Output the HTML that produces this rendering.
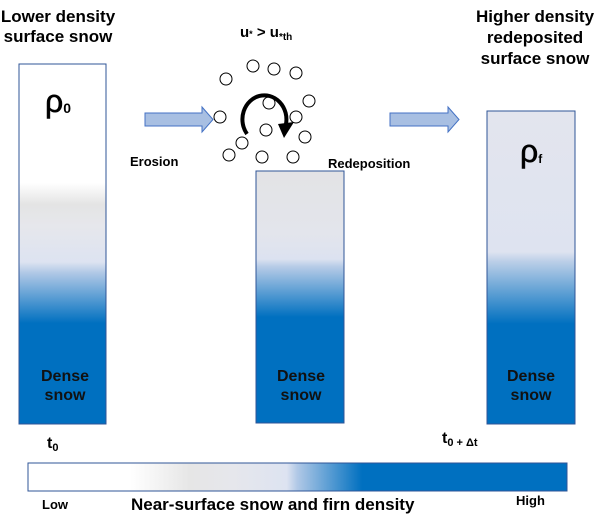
<!DOCTYPE html>
<html><head><style>
body{margin:0;width:600px;height:521px;background:#fff;overflow:hidden;font-family:"Liberation Sans",Arial,sans-serif;}
</style></head><body>
<svg width="600" height="521" viewBox="0 0 600 521" xmlns="http://www.w3.org/2000/svg" font-family="Liberation Sans, Arial, sans-serif" font-weight="bold">
<defs>
<linearGradient id="g1" x1="0" y1="0" x2="0" y2="1">
<stop offset="0" stop-color="#fff"/><stop offset="0.33" stop-color="#fff"/><stop offset="0.39" stop-color="#e4e4e4"/><stop offset="0.45" stop-color="#e6e7ec"/><stop offset="0.55" stop-color="#dde3f1"/><stop offset="0.58" stop-color="#b0c8e6"/><stop offset="0.72" stop-color="#0070c0"/><stop offset="1" stop-color="#0070c0"/>
</linearGradient>
<linearGradient id="g2" x1="0" y1="0" x2="0" y2="1">
<stop offset="0" stop-color="#e3e3e5"/><stop offset="0.25" stop-color="#e3e5ec"/><stop offset="0.35" stop-color="#dce2f0"/><stop offset="0.38" stop-color="#b6cbe7"/><stop offset="0.58" stop-color="#0070c0"/><stop offset="1" stop-color="#0070c0"/>
</linearGradient>
<linearGradient id="g3" x1="0" y1="0" x2="0" y2="1">
<stop offset="0" stop-color="#e3e5ee"/><stop offset="0.45" stop-color="#dee3f0"/><stop offset="0.48" stop-color="#bccfe8"/><stop offset="0.68" stop-color="#0070c0"/><stop offset="1" stop-color="#0070c0"/>
</linearGradient>
<linearGradient id="gb" x1="0" y1="0" x2="1" y2="0">
<stop offset="0" stop-color="#fff"/><stop offset="0.19" stop-color="#fff"/><stop offset="0.3" stop-color="#e6e6e6"/><stop offset="0.38" stop-color="#e6e7ec"/><stop offset="0.48" stop-color="#dde3f1"/><stop offset="0.5" stop-color="#b0c8e6"/><stop offset="0.62" stop-color="#0070c0"/><stop offset="1" stop-color="#0070c0"/>
</linearGradient>
</defs>
<rect x="19" y="64" width="87" height="360" fill="url(#g1)" stroke="#2f5597" stroke-width="1"/>
<rect x="256" y="171" width="88" height="252" fill="url(#g2)" stroke="#2f5597" stroke-width="1"/>
<rect x="487" y="111" width="88" height="313" fill="url(#g3)" stroke="#2f5597" stroke-width="1"/>
<rect x="28" y="463" width="539" height="28" fill="url(#gb)" stroke="#2f5597" stroke-width="1"/>
<polygon points="145,113 202,113 202,107 213,119.5 202,132 202,126 145,126" fill="#a8bfe2" stroke="#4472c4" stroke-width="1"/>
<polygon points="390,113 448,113 448,107 459,119.5 448,132 448,126 390,126" fill="#a8bfe2" stroke="#4472c4" stroke-width="1"/>
<g fill="#fff" stroke="#000" stroke-width="1">
<circle cx="226" cy="79" r="6"/><circle cx="253" cy="66" r="6"/><circle cx="274" cy="69" r="6"/><circle cx="296" cy="73" r="6"/>
<circle cx="309" cy="101" r="6"/><circle cx="269" cy="103" r="6"/><circle cx="220" cy="117" r="6"/><circle cx="296" cy="117" r="6"/>
<circle cx="266" cy="130" r="6"/><circle cx="305" cy="137" r="6"/><circle cx="242" cy="143" r="6"/><circle cx="229" cy="155" r="6"/>
<circle cx="262" cy="157" r="6"/><circle cx="293" cy="157" r="6"/>
</g>
<path d="M247,134 A22,24 0 1 1 286,124" fill="none" stroke="#000" stroke-width="4"/>
<polygon points="278,124 294,122 284,138" fill="#000"/>
<g font-size="17" text-anchor="middle" fill="#000">
<text x="58" y="22">Lower density</text><text x="58" y="42">surface snow</text>
<text x="535" y="22">Higher density</text><text x="535" y="43">redeposited</text><text x="535" y="64">surface snow</text>
</g>
<text x="240" y="37" font-size="15">u<tspan font-size="9">*</tspan> &gt; u<tspan font-size="10" dy="3">*th</tspan></text>
<text x="45" y="112" font-size="32" font-weight="normal" stroke="#000" stroke-width="0.6">ρ<tspan font-size="14" font-weight="bold" stroke-width="0" dy="1">0</tspan></text>
<text x="520" y="162" font-size="32" font-weight="normal" stroke="#000" stroke-width="0.6">ρ<tspan font-size="12" font-weight="bold" stroke-width="0" dy="1">f</tspan></text>
<g font-size="13"><text x="130" y="166">Erosion</text><text x="328" y="168">Redeposition</text></g>
<g font-size="16" text-anchor="middle" fill="#111">
<text x="65" y="381">Dense</text><text x="65" y="400">snow</text>
<text x="301" y="381">Dense</text><text x="301" y="400">snow</text>
<text x="531" y="381">Dense</text><text x="531" y="400">snow</text>
</g>
<text x="47" y="448" font-size="16">t<tspan font-size="11" dy="3">0</tspan></text>
<text x="442" y="443" font-size="16">t<tspan font-size="11" dy="3">0 + Δt</tspan></text>
<text x="42" y="509" font-size="13">Low</text>
<text x="131" y="510" font-size="17">Near-surface snow and firn density</text>
<text x="516" y="505" font-size="13">High</text>
</svg>
</body></html>
